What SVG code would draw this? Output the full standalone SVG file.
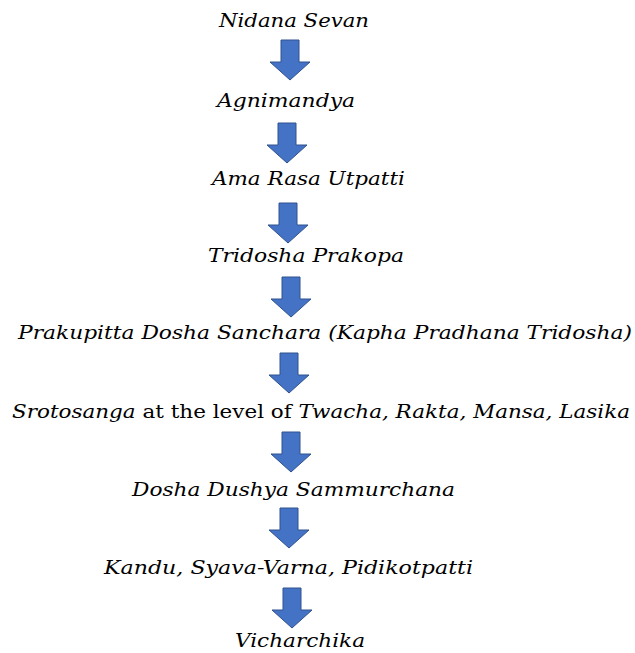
<svg xmlns="http://www.w3.org/2000/svg" xmlns:xlink="http://www.w3.org/1999/xlink" width="635" height="653" viewBox="0 0 635 653">
<style>
.t{font-family:"DejaVu Serif",serif;font-size:18px;font-style:italic;fill:#000}
.u{font-style:normal}
.arr{fill:#4472C4;stroke:#2F528F;stroke-width:1}
</style>
<defs>
<path id="ar" class="arr" d="M-9 0 H9 V22 H20 L0 40 L-20 22 H-9 Z"/>
</defs>
<rect width="635" height="653" fill="#fff"/>
<g id="n1"><text class="t" x="219" y="27" textLength="150" lengthAdjust="spacingAndGlyphs">Nidana Sevan</text></g>
<g id="n2"><text class="t" x="217" y="107" textLength="138" lengthAdjust="spacingAndGlyphs">Agnimandya</text></g>
<g id="n3"><text class="t" x="212" y="185" textLength="193" lengthAdjust="spacingAndGlyphs">Ama Rasa Utpatti</text></g>
<g id="n4"><text class="t" x="208" y="262" textLength="196" lengthAdjust="spacingAndGlyphs">Tridosha Prakopa</text></g>
<g id="n5"><text class="t" x="18" y="339" textLength="614" lengthAdjust="spacingAndGlyphs">Prakupitta Dosha Sanchara (Kapha Pradhana Tridosha)</text></g>
<g id="n6"><text class="t" x="12" y="418" textLength="618" lengthAdjust="spacingAndGlyphs">Srotosanga<tspan class="u"> at the level of </tspan>Twacha, Rakta, Mansa, Lasika</text></g>
<g id="n7"><text class="t" x="132" y="496" textLength="323" lengthAdjust="spacingAndGlyphs">Dosha Dushya Sammurchana</text></g>
<g id="n8"><text class="t" x="104" y="574" textLength="369" lengthAdjust="spacingAndGlyphs">Kandu, Syava-Varna, Pidikotpatti</text></g>
<g id="n9"><text class="t" x="235" y="647" textLength="130" lengthAdjust="spacingAndGlyphs">Vicharchika</text></g>
<g id="connectors">
<use xlink:href="#ar" href="#ar" x="290" y="40"/>
<use xlink:href="#ar" href="#ar" x="287" y="123"/>
<use xlink:href="#ar" href="#ar" x="288" y="203"/>
<use xlink:href="#ar" href="#ar" x="291" y="277"/>
<use xlink:href="#ar" href="#ar" x="289" y="353"/>
<use xlink:href="#ar" href="#ar" x="291" y="432"/>
<use xlink:href="#ar" href="#ar" x="289" y="508"/>
<use xlink:href="#ar" href="#ar" x="292" y="588"/>
</g>
</svg>
